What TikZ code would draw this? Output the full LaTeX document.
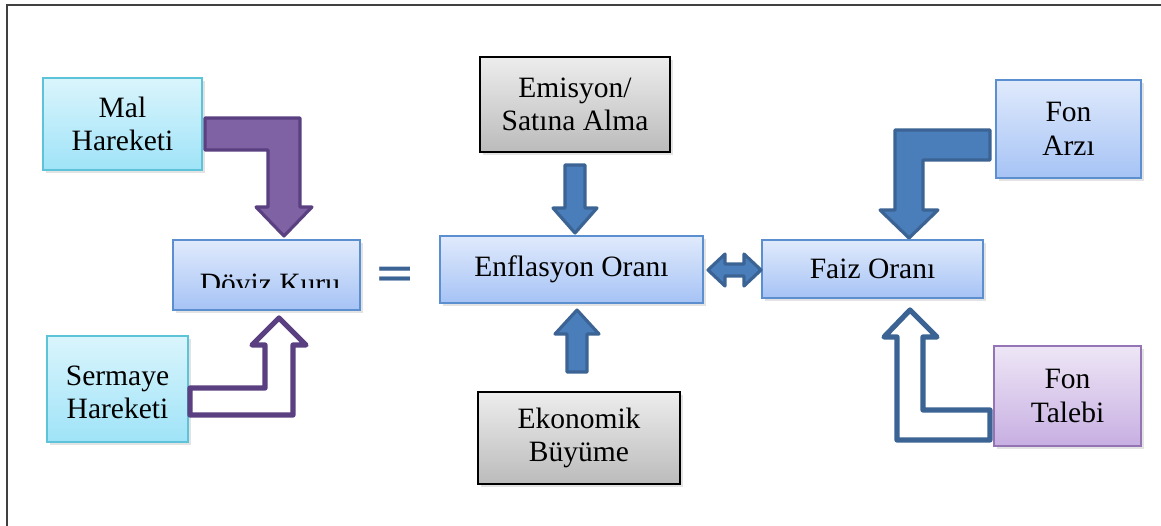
\documentclass[tikz,border=0pt]{standalone}
\usepackage{fontspec}
\setmainfont{Liberation Serif}
\newfontfamily\eqfont{DejaVu Sans}
\usetikzlibrary{shadows}

\definecolor{frameline}{HTML}{404040}
\definecolor{blueline}{HTML}{5B8FD0}
\definecolor{bluetop}{HTML}{E0EAFC}
\definecolor{bluebot}{HTML}{A6C3F5}
\definecolor{cyanline}{HTML}{5CC3D9}
\definecolor{cyantop}{HTML}{DAF5FC}
\definecolor{cyanbot}{HTML}{9FE3F8}
\definecolor{graytop}{HTML}{EDEDED}
\definecolor{graybot}{HTML}{BBBBBB}
\definecolor{purpline}{HTML}{9474B4}
\definecolor{purptop}{HTML}{EEE6F6}
\definecolor{purpbot}{HTML}{C7AFE2}
\definecolor{arrowblue}{HTML}{4A7EBB}
\definecolor{arrowblueline}{HTML}{3B6394}
\definecolor{arrowpurp}{HTML}{7F62A4}
\definecolor{arrowpurpline}{HTML}{5A4080}

\newcommand{\boxfont}{\fontsize{16.8}{19}\selectfont}

\tikzset{
    box/.style={draw, line width=1.1pt, align=center, inner sep=0pt, font=\boxfont,
        drop shadow={shadow xshift=1.5pt, shadow yshift=-1.5pt, opacity=0.22}},
    bluebox/.style={box, draw=blueline, top color=bluetop, bottom color=bluebot},
    cyanbox/.style={box, draw=cyanline, top color=cyantop, bottom color=cyanbot},
    graybox/.style={box, draw=black, line width=1.3pt, top color=graytop, bottom color=graybot},
    purpbox/.style={box, draw=purpline, top color=purptop, bottom color=purpbot},
    fullarrow/.style={line width=1.8pt, line join=round},
    openarrow/.style={fill=white, line width=3pt, line join=round}
}

\begin{document}
\begin{tikzpicture}[x=0.02cm, y=-0.02cm]
    % Frame
    \useasboundingbox (0,0) rectangle (1161,525);
    \draw[frameline, line width=1.4pt] (7,527) -- (7,5) -- (1165,5);

    % Boxes
    \node[cyanbox, minimum width=3.18cm, minimum height=1.84cm] (mal) at (122.5,124) {Mal\\Hareketi};
    \node[cyanbox, minimum width=2.82cm, minimum height=2.12cm, text height=1.2cm] (sermaye) at (117.5,389) {Sermaye\\Hareketi};
    \node[bluebox, minimum width=3.74cm, minimum height=1.40cm] (doviz) at (266.5,275) {};
    \node[bluebox, minimum width=5.26cm, minimum height=1.34cm] (enflasyon) at (571.5,269.5) {Enflasyon Oranı};
    \node[graybox, minimum width=3.80cm, minimum height=1.90cm] (emisyon) at (575,104.5) {Emisyon/\\Satına Alma};
    \node[graybox, minimum width=4.04cm, minimum height=1.84cm] (buyume) at (579,438) {Ekonomik\\Büyüme};
    \node[bluebox, minimum width=4.42cm, minimum height=1.16cm] (faiz) at (872.5,269) {Faiz Oranı};
    \node[bluebox, minimum width=2.90cm, minimum height=1.96cm] (arz) at (1068.5,129) {Fon\\Arzı};
    \node[purpbox, minimum width=2.94cm, minimum height=2.00cm] (talep) at (1067.5,396) {Fon\\Talebi};

    % Doviz Kuru label, cut off at the bottom
    \begin{scope}
        \clip (173,240) rectangle (360,287.5);
        \node[font=\boxfont, anchor=base, inner sep=0pt] (dovizlabel) at (270,293) {Döviz Kuru};
    \end{scope}

    % Equals sign
    \node[font=\eqfont\fontsize{28}{28}\selectfont, text=arrowblueline, inner sep=0pt] (esit) at (395,278) {=};

    % Mal Hareketi -> Doviz Kuru
    \draw[fullarrow, draw=arrowpurpline, fill=arrowpurp]
        (205,118) -- (300,118) -- (300,207) -- (312,207) -- (284,236) -- (256,207)
        -- (268,207) -- (268,150) -- (205,150) -- cycle;

    % Sermaye Hareketi -> Doviz Kuru
    \draw[openarrow, draw=arrowpurpline]
        (190,388) -- (265,388) -- (265,345) -- (252,345) -- (279,318) -- (306,345)
        -- (293,345) -- (293,415) -- (190,415) -- cycle;

    % Emisyon -> Enflasyon
    \draw[fullarrow, draw=arrowblueline, fill=arrowblue]
        (565,165) -- (585,165) -- (585,208) -- (597,208) -- (575,233) -- (553,208)
        -- (565,208) -- cycle;

    % Ekonomik Buyume -> Enflasyon
    \draw[fullarrow, draw=arrowblueline, fill=arrowblue]
        (567,372) -- (587,372) -- (587,334) -- (599,334) -- (577,310) -- (555,334)
        -- (567,334) -- cycle;

    % Enflasyon <-> Faiz
    \draw[fullarrow, draw=arrowblueline, fill=arrowblue]
        (708,270) -- (725,254) -- (725,264) -- (744,264) -- (744,254) -- (761,270)
        -- (744,286) -- (744,276) -- (725,276) -- (725,286) -- cycle;

    % Fon Arzi -> Faiz
    \draw[fullarrow, draw=arrowblueline, fill=arrowblue]
        (990,130) -- (895,130) -- (895,210) -- (880,210) -- (909,238) -- (938,210)
        -- (923,210) -- (923,160) -- (990,160) -- cycle;

    % Fon Talebi -> Faiz
    \draw[openarrow, draw=arrowblueline]
        (990,410) -- (923,410) -- (923,337) -- (937,337) -- (910,310) -- (884,337)
        -- (897,337) -- (897,440) -- (990,440) -- cycle;
\end{tikzpicture}
\end{document}
